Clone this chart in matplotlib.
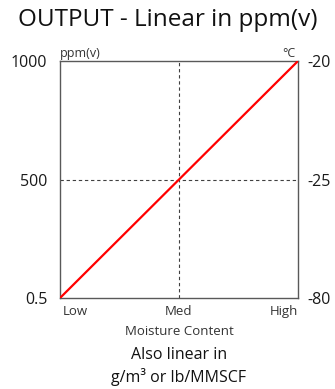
import matplotlib
matplotlib.use("Agg")
import matplotlib.pyplot as plt

plt.rcParams['font.family'] = ['Open Sans', 'DejaVu Sans']

x_labels = ["Low", "Med", "High"]
x_pos = [0.0, 0.5, 1.0]
ppm_ticks = [0.5, 500, 1000]
ppm_labels = ["0.5", "500", "1000"]
degc_labels = ["-80", "-25", "-20"]
line_x = [0.0, 1.0]
line_ppm = [0.5, 1000]

fig = plt.figure(figsize=(3.35, 3.89), dpi=100)
ax = fig.add_axes([60/335, 1-298/389, 238/335, 237/389])
ax.set_xlim(0, 1)
ax.set_ylim(0.5, 1000)
ax.plot(line_x, line_ppm, color='#ff0000', lw=1.6, solid_capstyle='butt', zorder=3)
ax.axvline(x_pos[1], color='#404040', lw=0.8, ls=(0, (3, 2.5)), zorder=2)
ax.axhline(ppm_ticks[1], color='#404040', lw=0.8, ls=(0, (3, 2.5)), zorder=2)
for s in ax.spines.values():
    s.set_color('#595959')
    s.set_linewidth(1.0)
ax.set_yticks(ppm_ticks)
ax.set_yticklabels(ppm_labels, fontsize=11.5, color='#1a1a1a')
ax.tick_params(axis='y', length=0, pad=9)
ax.set_xticks([])
axr = ax.twinx()
axr.set_ylim(0.5, 1000)
axr.set_yticks(ppm_ticks)
axr.set_yticklabels(degc_labels, fontsize=11.5, color='#1a1a1a')
axr.tick_params(axis='y', length=0, pad=7)
for s in axr.spines.values():
    s.set_visible(False)

has = ['left', 'center', 'right']
for xp, lab, ha in zip(x_pos, x_labels, has):
    ax.text(xp + (0.012 if ha == 'left' else 0), -0.03, lab, transform=ax.transAxes,
            ha=ha, va='top', fontsize=9.5, color='#333333')
ax.text(0.5, -0.115, "Moisture Content", transform=ax.transAxes, ha='center', va='top',
        fontsize=9.5, color='#333333')
ax.text(0.0, 1.005, "ppm(v)", transform=ax.transAxes, ha='left', va='bottom',
        fontsize=9, color='#333333')
ax.text(0.99, 1.005, "°C", transform=ax.transAxes, ha='right', va='bottom',
        fontsize=9, color='#333333')

fig.text(0.5, 1-20/389, "OUTPUT - Linear in ppm(v)", ha='center', va='center', fontsize=17.5, color='#111111')
fig.text(179/335, 1-355/389, "Also linear in", ha='center', va='center', fontsize=11.5, color='#111111')
fig.text(179/335, 1-377/389, "g/m³ or lb/MMSCF", ha='center', va='center', fontsize=11.5, color='#111111')

fig.savefig("out.png", dpi=100)
